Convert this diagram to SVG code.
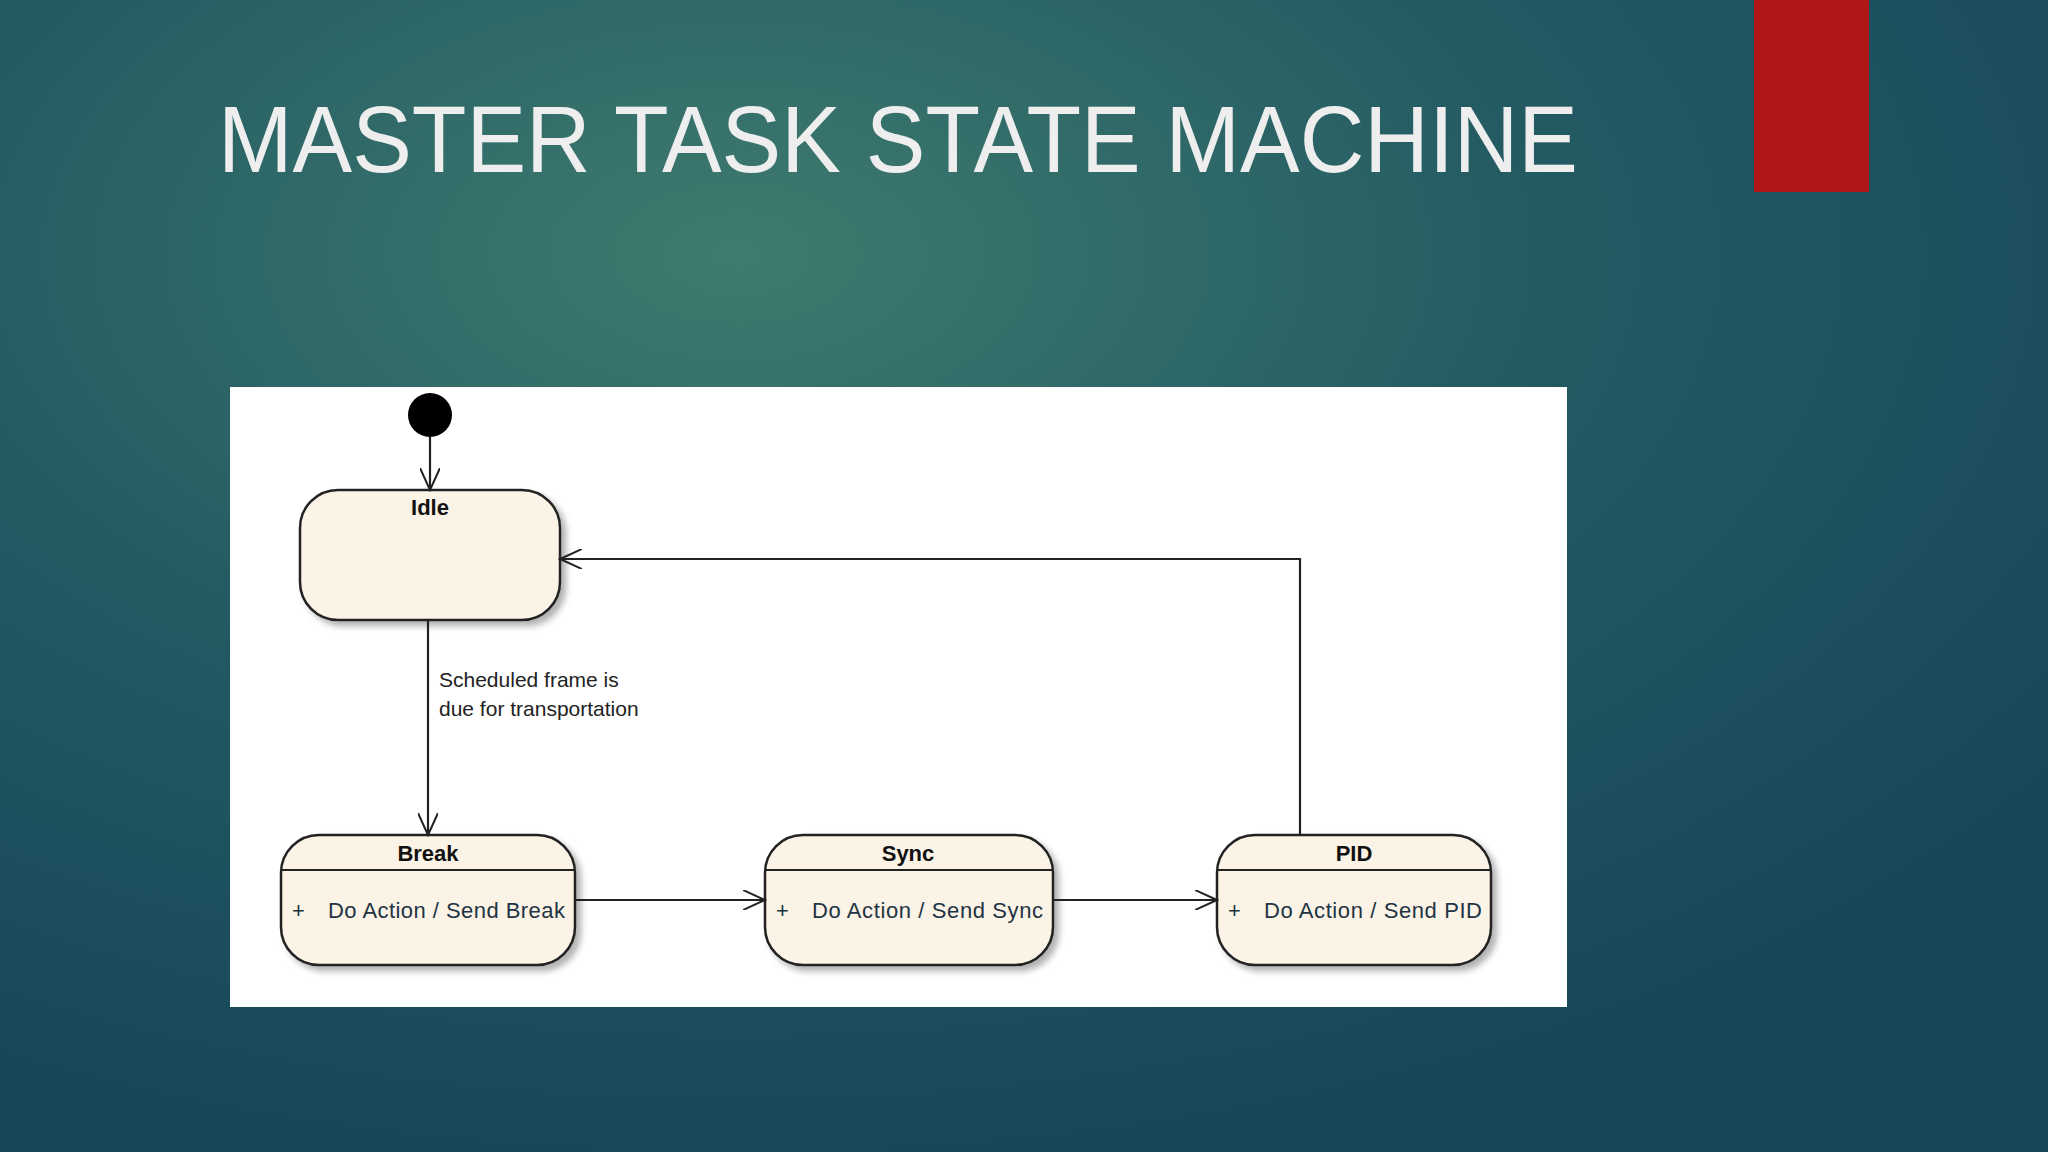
<svg xmlns="http://www.w3.org/2000/svg" width="2048" height="1152" viewBox="0 0 2048 1152">
<defs>
<radialGradient id="bg" cx="0.36" cy="0.22" r="0.8">
<stop offset="0" stop-color="#3f7b6f"/>
<stop offset="0.5" stop-color="#235a62"/>
<stop offset="1" stop-color="#17465a"/>
</radialGradient>
<filter id="sh" x="-10%" y="-10%" width="130%" height="130%"><feDropShadow dx="5" dy="5" stdDeviation="3" flood-color="#000" flood-opacity="0.3"/></filter>
<marker id="ar" markerWidth="24" markerHeight="20" refX="22" refY="10" orient="auto" markerUnits="userSpaceOnUse"><path d="M0,0 L22,10 L0,20" fill="none" stroke="#222" stroke-width="2"/></marker>
</defs>
<style>
.st{fill:#fbf3e6;stroke:#222;stroke-width:2.5}
.nm{font-family:"Liberation Sans",Arial,sans-serif;font-weight:bold;font-size:22px;fill:#111;text-anchor:middle}
.ac{font-family:"Liberation Sans",Arial,sans-serif;font-size:22px;fill:#234}
.cn{fill:none;stroke:#222;stroke-width:2.2}
</style>
<rect width="2048" height="1152" fill="url(#bg)"/>
<rect x="1754" y="0" width="115" height="192" fill="#b01517"/>
<text x="218" y="172" font-family="Liberation Sans,Arial,sans-serif" font-size="95" fill="#eeeeee" textLength="1360" lengthAdjust="spacingAndGlyphs">MASTER TASK STATE MACHINE</text>
<rect x="230" y="387" width="1337" height="620" fill="#ffffff"/>
<g id="start"><circle cx="430" cy="415" r="22" fill="#000"/></g>
<g id="idle"><rect class="st" x="300" y="490" width="260" height="130" rx="38" filter="url(#sh)"/><text class="nm" x="430" y="515">Idle</text></g>
<g id="break"><rect class="st" x="281" y="835" width="294" height="130" rx="38" filter="url(#sh)"/><line x1="281" y1="870" x2="575" y2="870" stroke="#222" stroke-width="2"/><text class="nm" x="428" y="861">Break</text><text class="ac" x="292" y="918">+</text><text class="ac" x="328" y="918" textLength="237">Do Action / Send Break</text></g>
<g id="sync"><rect class="st" x="765" y="835" width="288" height="130" rx="38" filter="url(#sh)"/><line x1="765" y1="870" x2="1053" y2="870" stroke="#222" stroke-width="2"/><text class="nm" x="908" y="861">Sync</text><text class="ac" x="776" y="918">+</text><text class="ac" x="812" y="918" textLength="231">Do Action / Send Sync</text></g>
<g id="pid"><rect class="st" x="1217" y="835" width="274" height="130" rx="38" filter="url(#sh)"/><line x1="1217" y1="870" x2="1491" y2="870" stroke="#222" stroke-width="2"/><text class="nm" x="1354" y="861">PID</text><text class="ac" x="1228" y="918">+</text><text class="ac" x="1264" y="918" textLength="218">Do Action / Send PID</text></g>
<g id="connectors">
<line class="cn" x1="430" y1="437" x2="430" y2="490" marker-end="url(#ar)"/>
<line class="cn" x1="428" y1="620" x2="428" y2="835" marker-end="url(#ar)"/>
<line class="cn" x1="575" y1="900" x2="765" y2="900" marker-end="url(#ar)"/>
<line class="cn" x1="1053" y1="900" x2="1217" y2="900" marker-end="url(#ar)"/>
<polyline class="cn" points="1300,835 1300,559 560,559" marker-end="url(#ar)"/>
<text font-family="Liberation Sans,Arial,sans-serif" font-size="21" fill="#222"><tspan x="439" y="687">Scheduled frame is</tspan><tspan x="439" y="716">due for transportation</tspan></text>
</g>
</svg>
